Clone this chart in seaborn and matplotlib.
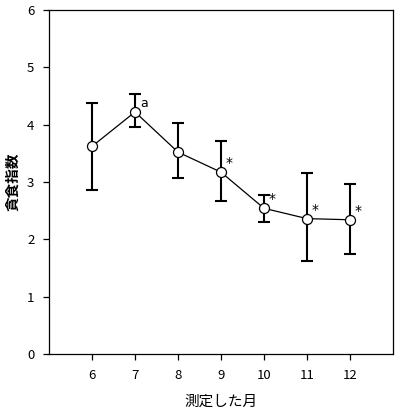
import matplotlib
matplotlib.use("Agg")
import matplotlib.pyplot as plt
import seaborn as sns
import numpy as np

# values
months = [6, 7, 8, 9, 10, 11, 12]
means = [3.62, 4.22, 3.52, 3.17, 2.54, 2.36, 2.34]
upper = [4.38, 4.53, 4.02, 3.72, 2.78, 3.15, 2.97]
lower = [2.86, 3.95, 3.06, 2.67, 2.30, 1.62, 1.75]
marks = ["", "a", "", "*", "*", "*", "*"]

x_label = "測定した月"
y_label = "貪食指数"

sns.set_style("ticks", {"axes.edgecolor": "black", "text.color": "black",
                        "xtick.color": "black", "ytick.color": "black",
                        "axes.labelcolor": "black"})
plt.rcParams['font.family'] = ['Noto Sans CJK JP', 'DejaVu Sans']

fig = plt.figure(figsize=(4.0, 4.13), dpi=100)
ax = fig.add_axes([0.1225, 0.143, 0.86, 0.833])

err = np.array([np.subtract(means, lower), np.subtract(upper, means)])
ax.errorbar(months, means, yerr=err, fmt='none', ecolor='black',
            elinewidth=1.5, capsize=4.3, capthick=1.5, zorder=2)
sns.lineplot(x=months, y=means, ax=ax, color='black', linewidth=0.9,
             marker='o', markersize=7.2, markerfacecolor='white',
             markeredgecolor='black', markeredgewidth=0.9, zorder=3)

for mx, my, m in zip(months, means, marks):
    if m:
        ax.annotate(m, (mx, my), xytext=(3.5, 1.5), textcoords='offset points',
                    fontsize=10 if m == "*" else 9, ha='left', va='bottom',
                    family=['DejaVu Sans'])

ax.set_xlim(5, 13)
ax.set_ylim(0, 6)
ax.set_xticks(months)
ax.set_yticks(range(0, 7))
ax.tick_params(direction='out', length=4.5, width=0.9, labelsize=9.5, pad=6)
for s in ax.spines.values():
    s.set_linewidth(0.9)
    s.set_visible(True)

ax.set_xlabel(x_label, fontsize=10.5)
ax.set_ylabel(y_label, fontsize=10.5, fontweight='bold')
ax.xaxis.set_label_coords(0.5, -0.14)
ax.yaxis.set_label_coords(-0.108, 0.5)
ax.xaxis.label.set_va('center')
ax.yaxis.label.set_va('center')

fig.savefig("out.png", dpi=100)
